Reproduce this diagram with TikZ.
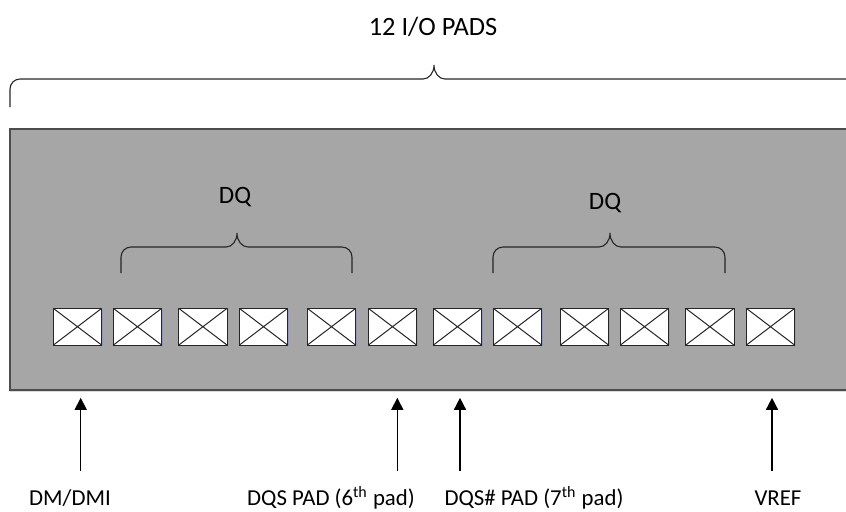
\documentclass[tikz,border=0pt]{standalone}
\usepackage{fontspec}
\setmainfont{Carlito}
\usepackage{xcolor}
\usepackage{tikz}
\usetikzlibrary{positioning,arrows.meta,shadows}
\definecolor{chipgray}{HTML}{A6A6A6}
\definecolor{edgegray}{HTML}{4D4D4D}
\newcommand{\padbrace}[5]{%
  \draw[brace, rounded corners=5pt] (#1,#5) -- (#1,#4) -- ({#3-11},#4);
  \draw[brace] ({#3-11},#4) .. controls ({#3-5},#4) and (#3,{#4-6}) .. (#3,{#4-14})
    .. controls (#3,{#4-6}) and ({#3+5},#4) .. ({#3+11},#4);
  \draw[brace, rounded corners=5pt] ({#3+11},#4) -- (#2,#4) -- (#2,#5);}

\begin{document}
\begin{tikzpicture}[x=0.5pt, y=-0.5pt,
  every node/.style={font=\fontsize{11.4}{13}\selectfont},
  chip/.style={draw=edgegray, line width=0.8pt, fill=chipgray, inner sep=0pt,
    minimum width=425pt, minimum height=130.5pt,
    drop shadow={shadow xshift=0pt, shadow yshift=-1.2pt, fill=blue!25!gray!35, opacity=0.7}},
  pad/.style={draw=black!85, line width=0.5pt, fill=white, inner sep=0pt,
    minimum width=24.2pt, minimum height=18.4pt,
    drop shadow={shadow xshift=0.6pt, shadow yshift=-0.6pt, fill=blue!30!gray!70, opacity=0.6},
    path picture={\draw[black!85, line width=0.5pt]
      (path picture bounding box.north west) -- (path picture bounding box.south east)
      (path picture bounding box.south west) -- (path picture bounding box.north east);}},
  brace/.style={draw=black!85, line width=0.55pt},
  arr/.style={draw=black, line width=0.75pt, -{Triangle[length=6pt, width=6pt]}},
  big/.style={font=\fontsize{13.2}{15}\selectfont},
  mid/.style={font=\fontsize{12.5}{14}\selectfont}]
\clip (0,0) rectangle (846,511);
\node[big] (title) at (433,27) {12 I/O PADS};
\padbrace{10}{860}{434}{79}{107}
\node[chip] (chip) at (435,259.5) {};
\foreach \px [count=\i] in {77.5,137.5,202.9,263.5,331.5,392.5,457.5,517.5,584.5,644.5,709.9,770.5}
  \node[pad] (p\i) at (\px,326.7) {};
\padbrace{121}{352}{237}{247}{273}
\padbrace{493}{725}{610}{247}{273}
\node[mid] (dql) at (235,197) {DQ};
\node[mid] (dqr) at (605,203) {DQ};
\node (dm) at (70,498) {DM/DMI};
\node (dqs) at (331,498) {DQS PAD (6\textsuperscript{th} pad)};
\node (dqsn) at (534,498) {DQS\# PAD (7\textsuperscript{th} pad)};
\node (vref) at (778,498) {VREF};
\coordinate (a1) at (80.7,471);
\coordinate (a6) at (397.3,471);
\coordinate (a7) at (460,471);
\coordinate (a12) at (772,471);
\foreach \a in {a1,a6,a7,a12}
  \draw[arr, shorten >=3.5pt] (\a) -- (\a |- chip.south);
\end{tikzpicture}
\end{document}
